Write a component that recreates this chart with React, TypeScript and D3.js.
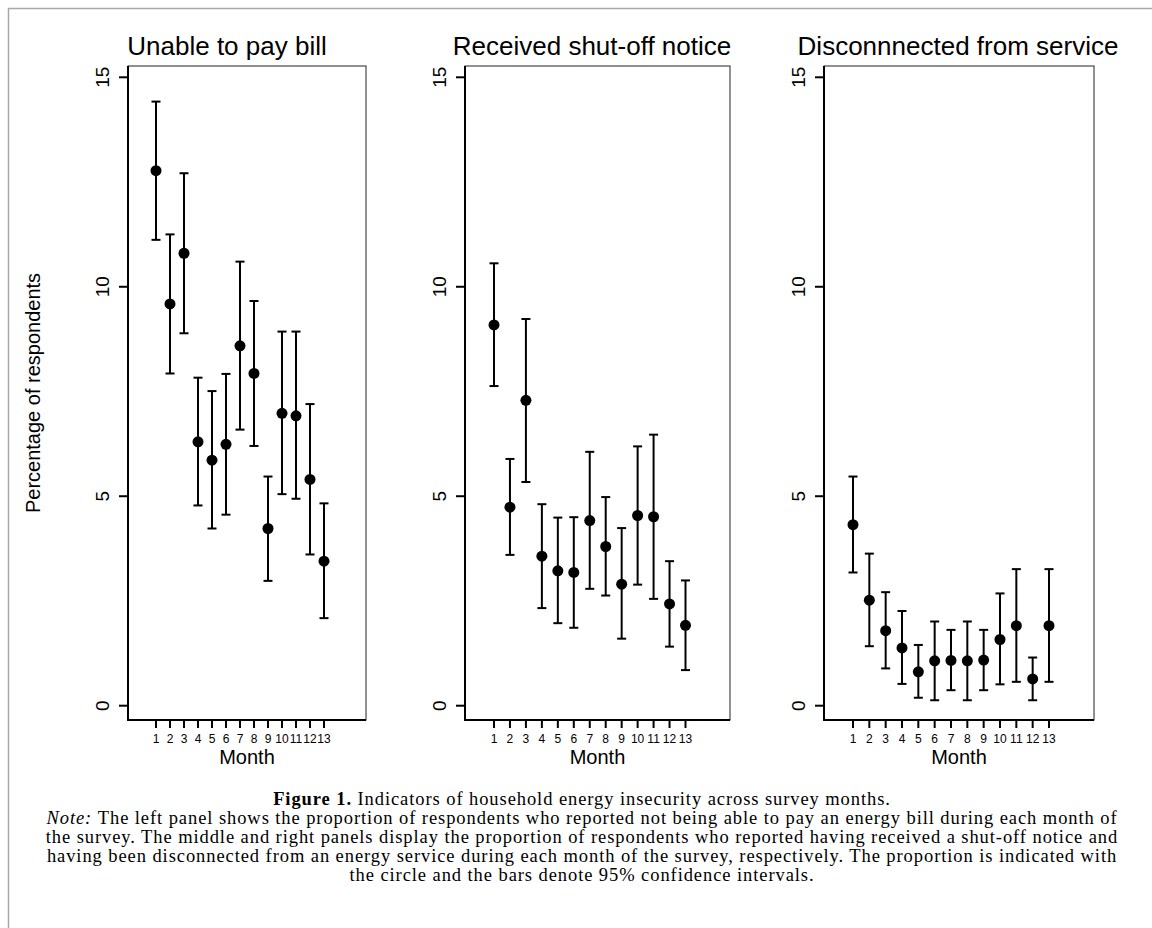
import { useEffect, useRef } from 'react';
import * as d3 from 'd3';

const months = [1, 2, 3, 4, 5, 6, 7, 8, 9, 10, 11, 12, 13];
const yTicks = [0, 5, 10, 15];

const unablePay = [12.77, 9.59, 10.8, 6.3, 5.86, 6.24, 8.59, 7.93, 4.23, 6.98, 6.92, 5.4, 3.45];
const unablePayLo = [11.12, 7.93, 8.89, 4.78, 4.23, 4.56, 6.59, 6.2, 2.98, 5.05, 4.94, 3.61, 2.09];
const unablePayHi = [14.42, 11.25, 12.71, 7.83, 7.51, 7.92, 10.6, 9.66, 5.47, 8.93, 8.93, 7.2, 4.83];

const shutOff = [9.09, 4.74, 7.29, 3.57, 3.22, 3.18, 4.42, 3.8, 2.9, 4.54, 4.51, 2.43, 1.92];
const shutOffLo = [7.63, 3.6, 5.34, 2.33, 1.97, 1.86, 2.79, 2.63, 1.6, 2.89, 2.55, 1.41, 0.85];
const shutOffHi = [10.56, 5.89, 9.23, 4.81, 4.49, 4.5, 6.06, 4.98, 4.24, 6.19, 6.47, 3.45, 2.99];

const disconnected = [4.32, 2.52, 1.79, 1.38, 0.81, 1.07, 1.08, 1.07, 1.09, 1.58, 1.91, 0.64, 1.91];
const disconnectedLo = [3.18, 1.42, 0.89, 0.52, 0.19, 0.13, 0.37, 0.13, 0.37, 0.51, 0.57, 0.13, 0.57];
const disconnectedHi = [5.47, 3.63, 2.71, 2.26, 1.45, 2.01, 1.81, 2.01, 1.81, 2.68, 3.26, 1.15, 3.26];

const titles = ['Unable to pay bill', 'Received shut-off notice', 'Disconnnected from service'];

const captionLines = [
  'Indicators of household energy insecurity across survey months.',
  'The left panel shows the proportion of respondents who reported not being able to pay an energy bill during each month of',
  'the survey. The middle and right panels display the proportion of respondents who reported having received a shut-off notice and',
  'having been disconnected from an energy service during each month of the survey, respectively. The proportion is indicated with',
  'the circle and the bars denote 95% confidence intervals.',
];

const W = 1152;
const H = 928;
const sans = '"Liberation Sans", Arial, Helvetica, sans-serif';
const serif = '"Liberation Serif", "Times New Roman", serif';

// panel layout: plot box plus where months 1 and 13 fall
const panels = [
  { left: 128, right: 366, m1: 156, m13: 324, titleX: 227, est: unablePay, lo: unablePayLo, hi: unablePayHi },
  { left: 465, right: 730, m1: 494, m13: 685.5, titleX: 592, est: shutOff, lo: shutOffLo, hi: shutOffHi },
  { left: 824, right: 1094, m1: 853, m13: 1049, titleX: 958, est: disconnected, lo: disconnectedLo, hi: disconnectedHi },
];
const boxTop = 66;
const boxBottom = 720;

const App = () => {
  const svgRef = useRef(null);

  useEffect(() => {
    const svg = d3.select(svgRef.current);
    svg.selectAll('*').remove();

    svg.append('rect').attr('width', W).attr('height', H).attr('fill', '#fff');

    // outer frame (runs off the right and bottom)
    svg.append('rect')
      .attr('x', 8.5).attr('y', 8.5)
      .attr('width', W + 20).attr('height', H + 20)
      .attr('fill', 'none')
      .attr('stroke', '#a8a8a8')
      .attr('stroke-width', 1.5);

    const y = d3.scaleLinear().domain([0, 15]).range([705.7, 77.3]);

    panels.forEach((p, i) => {
      const x = d3.scaleLinear().domain([1, 13]).range([p.m1, p.m13]);
      const g = svg.append('g');

      // plot box
      g.append('rect')
        .attr('x', p.left).attr('y', boxTop)
        .attr('width', p.right - p.left).attr('height', boxBottom - boxTop)
        .attr('fill', 'none')
        .attr('stroke', '#222')
        .attr('stroke-width', 1);

      // axes
      g.append('line')
        .attr('x1', p.left).attr('x2', p.left)
        .attr('y1', boxTop).attr('y2', boxBottom + 1)
        .attr('stroke', '#000').attr('stroke-width', 2);
      g.append('line')
        .attr('x1', p.left - 1).attr('x2', p.right)
        .attr('y1', boxBottom).attr('y2', boxBottom)
        .attr('stroke', '#000').attr('stroke-width', 2);

      // y ticks
      yTicks.forEach(t => {
        g.append('line')
          .attr('x1', p.left - 9).attr('x2', p.left)
          .attr('y1', y(t)).attr('y2', y(t))
          .attr('stroke', '#000').attr('stroke-width', 2);
        g.append('text')
          .attr('transform', `translate(${p.left - 26},${y(t)}) rotate(-90)`)
          .attr('text-anchor', 'middle')
          .attr('dominant-baseline', 'central')
          .style('font-family', sans)
          .style('font-size', '19px')
          .text(t);
      });

      // x ticks
      months.forEach(m => {
        g.append('line')
          .attr('x1', x(m)).attr('x2', x(m))
          .attr('y1', boxBottom).attr('y2', boxBottom + 8)
          .attr('stroke', '#000').attr('stroke-width', 2);
        g.append('text')
          .attr('x', x(m)).attr('y', 743)
          .attr('text-anchor', 'middle')
          .style('font-family', sans)
          .style('font-size', '12px')
          .text(m);
      });

      g.append('text')
        .attr('x', (p.left + p.right) / 2).attr('y', 764)
        .attr('text-anchor', 'middle')
        .style('font-family', sans)
        .style('font-size', '20px')
        .text('Month');

      g.append('text')
        .attr('x', p.titleX).attr('y', 55)
        .attr('text-anchor', 'middle')
        .style('font-family', sans)
        .style('font-size', '26px')
        .text(titles[i]);

      // error bars
      const bars = g.selectAll('.ci').data(months).enter().append('g');
      bars.append('line')
        .attr('x1', d => x(d)).attr('x2', d => x(d))
        .attr('y1', (d, j) => y(p.lo[j])).attr('y2', (d, j) => y(p.hi[j]))
        .attr('stroke', '#000').attr('stroke-width', 2);
      bars.append('line')
        .attr('x1', d => x(d) - 4.5).attr('x2', d => x(d) + 4.5)
        .attr('y1', (d, j) => y(p.lo[j])).attr('y2', (d, j) => y(p.lo[j]))
        .attr('stroke', '#000').attr('stroke-width', 2);
      bars.append('line')
        .attr('x1', d => x(d) - 4.5).attr('x2', d => x(d) + 4.5)
        .attr('y1', (d, j) => y(p.hi[j])).attr('y2', (d, j) => y(p.hi[j]))
        .attr('stroke', '#000').attr('stroke-width', 2);

      // point estimates
      g.selectAll('.dot').data(months).enter().append('circle')
        .attr('cx', d => x(d))
        .attr('cy', (d, j) => y(p.est[j]))
        .attr('r', 5.5)
        .attr('fill', '#000');
    });

    svg.append('text')
      .attr('transform', `translate(33,393) rotate(-90)`)
      .attr('text-anchor', 'middle')
      .attr('dominant-baseline', 'central')
      .style('font-family', sans)
      .style('font-size', '20px')
      .text('Percentage of respondents');

    // caption
    const baseY = [805, 824, 843, 862, 881];
    const cap = svg.append('g').style('font-family', serif).style('font-size', '18.5px');
    const texts = captionLines.map((line, i) => {
      const t = cap.append('text')
        .attr('x', 582).attr('y', baseY[i])
        .attr('text-anchor', 'middle');
      if (i === 0) {
        t.append('tspan').style('font-weight', 'bold').text('Figure 1. ');
      } else if (i === 1) {
        t.append('tspan').style('font-style', 'italic').text('Note: ');
      }
      t.append('tspan').text(line);
      return t;
    });
    // the original face is wider than Times: open up letter spacing so the
    // long line spans the same width as in the original
    const node = texts[1].node();
    const len = node.getComputedTextLength();
    const n = node.textContent.length;
    if (len > 0 && len < 1071) {
      cap.style('letter-spacing', `${(1071 - len) / n}px`);
    }
  }, []);

  return (
    <svg
      ref={svgRef}
      width={W}
      height={H}
      style={{ position: 'absolute', left: 0, top: 0, display: 'block' }}
    />
  );
};

export default App;
